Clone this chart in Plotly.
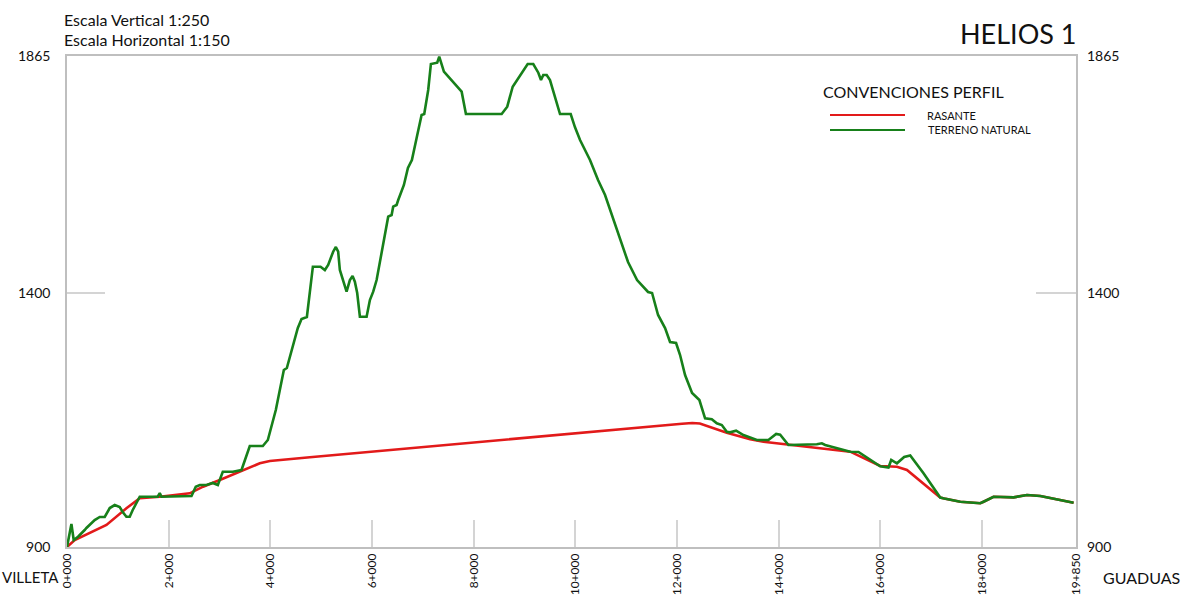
import plotly.graph_objects as go

# Profile stations (km) and elevations (m)
terreno_km = [0.000, 0.087, 0.132, 0.217, 0.348, 0.382, 0.545, 0.644, 0.742, 0.841, 0.939, 1.037,
              1.096, 1.169, 1.234, 1.293, 1.431, 1.785, 1.825, 1.858, 2.449, 2.533, 2.612, 2.744,
              2.868, 2.967, 3.065, 3.262, 3.433, 3.596, 3.852, 3.951, 4.108, 4.266, 4.325, 4.437,
              4.541, 4.614, 4.719, 4.837, 4.988, 5.073, 5.138, 5.236, 5.289, 5.335, 5.368, 5.500,
              5.565, 5.618, 5.663, 5.709, 5.762, 5.894, 5.959, 6.024, 6.091, 6.319, 6.386, 6.417,
              6.484, 6.516, 6.628, 6.707, 6.785, 6.878, 6.976, 7.028, 7.106, 7.159, 7.238, 7.283,
              7.323, 7.370, 7.415, 7.764, 7.848, 8.551, 8.661, 8.768, 9.063, 9.173, 9.272, 9.325,
              9.370, 9.437, 9.502, 9.699, 9.909, 9.994, 10.093, 10.289, 10.447, 10.585, 10.722,
              10.880, 11.037, 11.215, 11.431, 11.510, 11.628, 11.766, 11.864, 11.982, 12.061,
              12.159, 12.297, 12.441, 12.553, 12.685, 12.783, 12.882, 12.980, 13.045, 13.163,
              13.307, 13.571, 13.799, 13.951, 14.030, 14.193, 14.752, 14.850, 14.915, 15.146,
              15.408, 15.571, 15.736, 15.998, 16.161, 16.215, 16.327, 16.470, 16.589, 16.850,
              17.179, 17.258, 17.573, 17.967, 18.031, 18.228, 18.622, 18.886, 19.148, 19.476, 19.803]
terreno_elev = [900.0, 945.2, 913.7, 920.2, 933.4, 937.3, 953.0, 959.0, 959.0, 976.6, 982.5, 978.6,
                968.8, 959.5, 959.5, 972.7, 998.8, 998.8, 1006.1, 998.8, 1000.2, 1018.5, 1021.8, 1021.8,
                1025.8, 1021.8, 1048.0, 1048.0, 1051.3, 1098.5, 1098.5, 1110.3, 1169.2, 1247.9, 1251.8, 1291.1,
                1330.4, 1348.1, 1352.0, 1450.9, 1450.9, 1444.4, 1454.2, 1480.4, 1489.6, 1480.4, 1444.4, 1401.8,
                1424.7, 1432.6, 1421.4, 1399.2, 1352.6, 1352.6, 1385.4, 1401.8, 1424.7, 1549.2, 1552.5, 1568.8,
                1572.2, 1582.0, 1611.5, 1644.9, 1660.6, 1703.8, 1749.0, 1751.0, 1798.2, 1849.3, 1851.8, 1851.8,
                1863.6, 1850.7, 1834.1, 1794.8, 1751.0, 1751.0, 1765.4, 1804.7, 1849.3, 1849.3, 1832.2, 1817.8,
                1827.7, 1827.7, 1817.8, 1751.0, 1751.0, 1724.9, 1699.9, 1660.6, 1621.3, 1591.8, 1552.5,
                1503.4, 1460.1, 1424.7, 1401.2, 1399.2, 1356.0, 1330.4, 1302.9, 1301.0, 1277.3,
                1238.0, 1202.7, 1188.9, 1152.9, 1151.0, 1143.1, 1139.8, 1126.6, 1125.4, 1128.6,
                1120.1, 1110.3, 1110.3, 1122.1, 1120.7, 1100.5, 1101.8, 1103.8, 1100.5, 1094.0,
                1087.3, 1086.7, 1075.9, 1058.6, 1056.2, 1071.0, 1064.5, 1076.9, 1079.8, 1044.8,
                997.3, 995.3, 989.0, 985.9, 989.0, 998.8, 997.6, 1002.2, 1000.2, 994.3, 987.1]

rasante_km = [0.000, 0.152, 0.776, 1.169, 1.431, 1.825, 2.415, 2.677, 3.006, 3.400, 3.793, 3.990,
              4.778, 12.100, 12.300, 12.450, 12.587, 12.980, 13.439, 13.701, 15.408, 15.998, 16.327,
              16.524, 17.179, 17.258, 17.573, 17.967, 18.031, 18.228, 18.622, 18.886, 19.148, 19.476, 19.803]
rasante_elev = [900.0, 913.7, 943.2, 976.0, 995.7, 998.8, 1005.5, 1018.5, 1031.7, 1048.0, 1064.5, 1069.0,
                1076.3, 1142.3, 1143.7, 1142.6, 1137.8, 1124.6, 1111.7, 1107.0, 1087.3, 1059.2, 1057.8,
                1051.3, 997.3, 995.3, 989.0, 985.9, 989.0, 998.8, 997.6, 1002.2, 1000.2, 994.3, 987.1]

x_tick_vals = [0, 2, 4, 6, 8, 10, 12, 14, 16, 18, 19.85]
x_tick_text = ["0+000", "2+000", "4+000", "6+000", "8+000", "10+000", "12+000",
               "14+000", "16+000", "18+000", "19+850"]
y_tick_vals = [900, 1400, 1865]
y_tick_text = ["900", "1400", "1865"]

RED = "#E21A1A"
GREEN = "#17801A"
GRID = "#D4D4D4"
FONT = "Lato"
TXT = "#111111"

W, H = 1183, 597
L, R, T, B = 67, 1076, 56, 547


def px(x):
    return (x - L) / (R - L)


def py(y):
    return (B - y) / (B - T)


fig = go.Figure()
fig.add_trace(go.Scatter(x=rasante_km, y=rasante_elev, mode="lines", name="RASANTE",
                         line=dict(color=RED, width=2.6), showlegend=False))
fig.add_trace(go.Scatter(x=terreno_km, y=terreno_elev, mode="lines", name="TERRENO NATURAL",
                         line=dict(color=GREEN, width=2.6), showlegend=False))
# invisible trace to carry the right-hand elevation axis
fig.add_trace(go.Scatter(x=[0], y=[900], yaxis="y2", mode="lines",
                         line=dict(width=0), hoverinfo="skip", showlegend=False))

fig.update_layout(
    width=W, height=H,
    margin=dict(l=L, r=W - R, t=T, b=H - B),
    paper_bgcolor="white", plot_bgcolor="white",
    font=dict(family=FONT, color=TXT),
    xaxis=dict(range=[0, 19.85], tickvals=x_tick_vals, ticktext=x_tick_text, automargin=False,
               tickangle=-90, ticks="inside", ticklen=27, tickcolor=GRID, tickwidth=1.5,
               showgrid=False, zeroline=False, showline=True, linecolor="#BFBFBF",
               linewidth=1.5, mirror=True, ticklabelstandoff=0,
               tickfont=dict(size=12, family=FONT, color=TXT)),
    yaxis=dict(range=[900, 1865], tickvals=y_tick_vals, ticktext=y_tick_text, automargin=False,
               ticks="inside", ticklen=38, tickcolor=GRID, tickwidth=1.5,
               showgrid=False, zeroline=False, showline=True, linecolor="#BFBFBF",
               linewidth=1.5, mirror=True, ticklabelstandoff=12,
               tickfont=dict(size=14, family=FONT, color=TXT)),
    yaxis2=dict(range=[900, 1865], tickvals=y_tick_vals, ticktext=y_tick_text, automargin=False,
                overlaying="y", side="right", ticks="inside", ticklen=40, tickcolor=GRID,
                tickwidth=1.5, showgrid=False, zeroline=False, showline=False,
                ticklabelstandoff=10, tickfont=dict(size=14, family=FONT, color=TXT)),
)

annotations = [
    dict(text="Escala Vertical 1:250", x=px(62), y=py(19), xanchor="left", yanchor="middle",
         font=dict(size=16)),
    dict(text="Escala Horizontal 1:150", x=px(62), y=py(40), xanchor="left", yanchor="middle",
         font=dict(size=16)),
    dict(text="HELIOS 1", x=px(1078), y=py(34), xanchor="right", yanchor="middle",
         font=dict(size=27)),
    dict(text="CONVENCIONES PERFIL", x=px(821), y=py(91), xanchor="left", yanchor="middle",
         font=dict(size=16)),
    dict(text="RASANTE", x=px(925), y=py(115), xanchor="left", yanchor="middle",
         font=dict(size=11)),
    dict(text="TERRENO NATURAL", x=px(926), y=py(130), xanchor="left", yanchor="middle",
         font=dict(size=11)),
    dict(text="VILLETA", x=px(0), y=py(577), xanchor="left", yanchor="middle",
         font=dict(size=15)),
    dict(text="GUADUAS", x=px(1182), y=py(577), xanchor="right", yanchor="middle",
         font=dict(size=16)),
]
for a in annotations:
    a.update(xref="paper", yref="paper", showarrow=False)
fig.update_layout(annotations=annotations)

# legend samples
for color, yy in [(RED, 115), (GREEN, 130)]:
    fig.add_shape(type="line", xref="paper", yref="paper", x0=px(830), x1=px(905),
                  y0=py(yy), y1=py(yy), line=dict(color=color, width=2.2))

fig.write_html("out.html")
